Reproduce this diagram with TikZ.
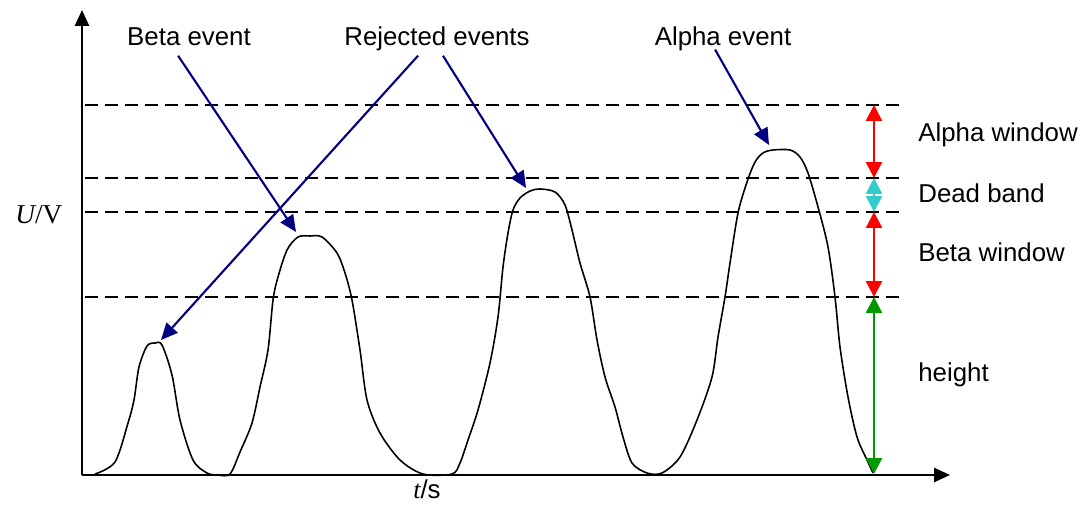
\documentclass[tikz,border=0pt]{standalone}
\usepackage{fontspec}
\setmainfont{Liberation Sans}
\newfontfamily\serifface{Liberation Serif}
\usetikzlibrary{arrows.meta}
\definecolor{evnavy}{RGB}{0,0,128}
\definecolor{bandred}{RGB}{255,0,0}
\definecolor{bandcyan}{RGB}{51,204,204}
\definecolor{bandgreen}{RGB}{0,153,0}

\begin{document}
\begin{tikzpicture}[x=0.2mm, y=-0.2mm, font=\fontsize{14.7}{17}\selectfont]
  \tikzstyle{axis}=[line width=1.1pt, -{Triangle[length=9pt, width=8pt]}]
  \tikzstyle{thresh}=[dashed, line width=1.1pt, dash pattern=on 7.4pt off 4pt]
  \tikzstyle{pointer}=[evnavy, line width=1.2pt, -{Triangle[length=9.5pt, width=8.5pt]}]
  \tikzstyle{band}=[line width=1.4pt, {Triangle[length=9pt, width=9pt]}-{Triangle[length=9pt, width=9pt]}]
  \tikzstyle{evlabel}=[anchor=base, text depth=0pt]
  \tikzstyle{bandlabel}=[anchor=base west, inner sep=0pt]
  \useasboundingbox (0,0) rectangle (1084,505);

  \coordinate (origin) at (82,475);
  \draw[axis] (origin) -- (82,10);
  \draw[axis] (origin) -- (950,475);
  \node[anchor=base west, inner sep=0pt] (ulabel) at (15,224) {\fontsize{15.5}{17}\selectfont{\serifface\itshape U}{\serifface /V}};
  \node[anchor=base west, inner sep=0pt] (tlabel) at (413,499) {{\serifface\itshape t}/s};

  \foreach \yy in {105,178,212,297}
    \draw[thresh] (85,\yy) -- (900,\yy);

  \draw[line width=0.9pt] plot[smooth, tension=0.5] coordinates {
    (95,474) (115,462) (128,423) (134,400) (139,367) (147,346) (155,343) (162,345)
    (172,375) (180,420) (193,460) (207,473) (218,475) (230,474) (240,452) (252,423)
    (260,387) (268,350) (273,300) (278,277) (287,250) (298,237) (310,236) (322,237)
    (337,253) (345,273) (352,300) (360,350) (367,400) (380,433) (400,460) (423,474)
    (452,474) (460,463) (468,440) (478,410) (490,363) (498,317) (503,267) (508,233)
    (513,210) (520,198) (530,191) (540,189) (555,192) (565,205) (572,230) (580,263)
    (590,297) (597,340) (605,377) (615,407) (623,437) (632,463) (647,473) (662,473)
    (680,457) (697,420) (712,377) (718,337) (725,297) (730,263) (738,213) (747,182)
    (755,162) (763,153) (773,150) (790,150) (800,157) (808,173) (818,207) (828,247)
    (835,297) (840,347) (848,397) (857,437) (867,460) (873,473)};

  \coordinate (smalltop) at (161,340);
  \coordinate (betatop) at (296,232);
  \coordinate (rejtop) at (526,188);
  \coordinate (alphatop) at (769,145);

  \node[evlabel] (betaev) at (189,46) {Beta event};
  \node[evlabel] (rejev) at (437,46) {Rejected events};
  \node[evlabel] (alphaev) at (723,46) {Alpha event};

  \draw[pointer] ([xshift=-6.2pt, yshift=-2pt]betaev.south) -- (betatop);
  \draw[pointer] ([xshift=-10.8pt, yshift=-2pt]rejev.south) -- (smalltop);
  \draw[pointer] ([xshift=3.4pt, yshift=-2pt]rejev.south) -- (rejtop);
  \draw[pointer] ([xshift=-4.5pt, yshift=1.5pt]alphaev.south) -- (alphatop);

  \coordinate (w1) at (874,105);
  \coordinate (w2) at (874,178);
  \coordinate (w3) at (874,212);
  \coordinate (w4) at (874,297);
  \coordinate (w5) at (874,474);
  \draw[band, bandred] (w1) -- (w2);
  \draw[band, bandcyan] (w2) -- (w3);
  \draw[band, bandred] (w3) -- (w4);
  \draw[band, bandgreen] (w4) -- (w5);

  \node[bandlabel] (alphawin) at (918,142) {Alpha window};
  \node[bandlabel] (deadband) at (918,203) {Dead band};
  \node[bandlabel] (betawin) at (918,262) {Beta window};
  \node[bandlabel] (heightlbl) at (918,382) {height};
\end{tikzpicture}
\end{document}
